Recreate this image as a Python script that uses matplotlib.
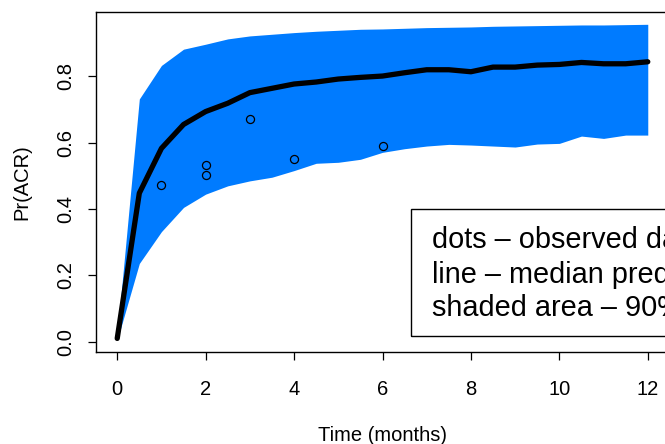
import numpy as np
import matplotlib
matplotlib.use('Agg')
import matplotlib.pyplot as plt
import matplotlib.patches as mpatches

plt.rcParams['font.family'] = ['Liberation Sans', 'DejaVu Sans']

# time grid of the predictions (months)
time = [0, 0.5, 1, 1.5, 2, 2.5, 3, 3.5, 4, 4.5, 5, 5.5, 6,
        6.5, 7, 7.5, 8, 8.5, 9, 9.5, 10, 10.5, 11, 11.5, 12]

# median prediction
median = [0.010, 0.448, 0.583, 0.655, 0.694, 0.719, 0.751, 0.764, 0.777,
          0.783, 0.792, 0.797, 0.801, 0.811, 0.820, 0.820, 0.814, 0.828,
          0.828, 0.834, 0.836, 0.842, 0.838, 0.838, 0.844]

# 90% prediction interval
upper = [0.020, 0.732, 0.833, 0.882, 0.897, 0.913, 0.922, 0.927, 0.932,
         0.936, 0.939, 0.942, 0.943, 0.945, 0.947, 0.948, 0.949, 0.951,
         0.952, 0.953, 0.954, 0.955, 0.955, 0.956, 0.957]
lower = [0.005, 0.236, 0.332, 0.405, 0.445, 0.470, 0.485, 0.496, 0.516,
         0.538, 0.541, 0.550, 0.571, 0.582, 0.590, 0.595, 0.593, 0.590,
         0.587, 0.596, 0.598, 0.620, 0.613, 0.623, 0.623]

# observed data
obs_time = [1, 2, 2, 3, 4, 6]
obs_val = [0.473, 0.533, 0.503, 0.673, 0.552, 0.591]

legend_lines = ["dots \u2013 observed data",
                "line \u2013 median prediction",
                "shaded area \u2013 90% prediction interval"]

W, H = 665, 444
fig = plt.figure(figsize=(W / 100, H / 100), dpi=100)
ax = fig.add_axes([96 / W, (H - 351.7) / H, 573 / W, 340 / H])

ax.fill_between(time, lower, upper, color='#007BFF', lw=0)
ax.plot(time, median, color='black', lw=3.8,
        solid_capstyle='round', solid_joinstyle='round')
ax.plot(obs_time, obs_val, 'o', mfc='none', mec='black', ms=5.8, mew=0.9)

ax.set_xlim(-0.48, 12.48)
ax.set_ylim(-0.030, 0.995)
ax.set_xticks(np.arange(0, 13, 2))
ax.set_yticks(np.arange(0, 0.9, 0.2))
ax.set_yticklabels(['%.1f' % v for v in np.arange(0, 0.9, 0.2)],
                   rotation=90, va='center')
ax.tick_params(length=6, width=0.9, labelsize=14.5)
ax.tick_params(axis='x', pad=14.5)
ax.tick_params(axis='y', pad=9)
for s in ax.spines.values():
    s.set_linewidth(1.0)

ax.set_xlabel('Time (months)', fontsize=14.5, labelpad=19)
ax.set_ylabel('Pr(ACR)', fontsize=14.5, labelpad=17.5)

# legend box (runs off the right edge like the original)
box = mpatches.Rectangle((0.549, 0.046), 0.8, 0.373, transform=ax.transAxes,
                         fill=False, ec='black', lw=1.0, clip_on=False)
ax.add_patch(box)
for ty, txt in zip([0.328, 0.225, 0.128], legend_lines):
    ax.text(0.586, ty, txt, transform=ax.transAxes, fontsize=20.8,
            va='center', ha='left', clip_on=False)

fig.savefig('out.png', dpi=100)
